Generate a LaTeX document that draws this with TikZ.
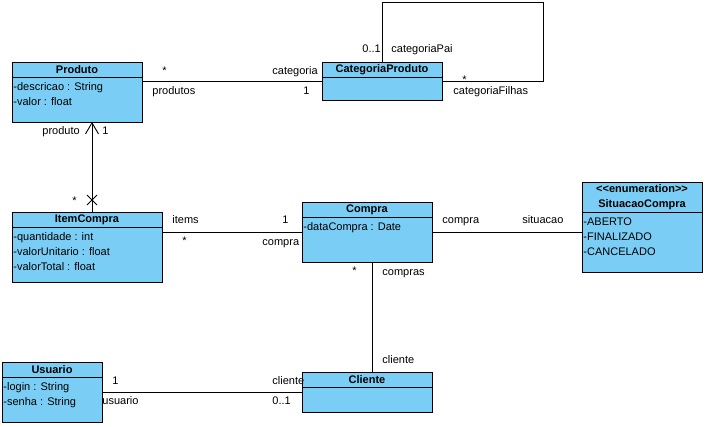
\documentclass[tikz,border=0pt]{standalone}
\usepackage{fontspec}
\setmainfont{Liberation Sans}
\usetikzlibrary{calc,shapes.misc,arrows.meta}

\definecolor{classblue}{RGB}{122,206,245}
\tikzset{every picture/.style={line width=0.9pt}}
\tikzset{
  classbox/.style={draw, fill=classblue, anchor=north west,
                inner sep=0pt, outer sep=0pt},
  classtitle/.style={font=\fontsize{11}{15}\selectfont\bfseries,
                inner sep=0pt, align=center},
  classattrs/.style={anchor=north west, align=left, inner sep=0pt,
                font=\fontsize{11}{15}\selectfont},
  role/.style={anchor=base west, inner sep=0pt,
                font=\fontsize{11}{15}\selectfont}, % association end labels
  navarrow/.style={-{Straight Barb[length=11pt,width=13pt]}},
}
% class box: name, x, y, width, height, title height, title, attributes
\newcommand{\umlclass}[8]{%
  \node[classbox, minimum width=#4pt, minimum height=#5pt] (#1) at (#2,#3) {};
  \node[classtitle] (#1-title) at ($(#1.north)+(0,#6/2)$) {#7};
  \draw ($(#1.north west)+(0,#6)$) -- ($(#1.north east)+(0,#6)$);
  \node[classattrs] (#1-attrs) at ($(#1.north west)+(1,#6+5)$) {#8};
}
\newcommand{\stereo}[1]{<\kern0pt<#1>\kern0pt>}

\begin{document}
\begin{tikzpicture}[x=1pt, y=-1pt]
  \useasboundingbox (0,0) rectangle (706,426);
  % classes
  \umlclass{produto}{12}{62}{130}{60}{15}{Produto}{-descricao : String\\-valor : float}
  \umlclass{categoria}{322}{62}{120}{38}{15}{CategoriaProduto}{}
  \umlclass{itemcompra}{12}{212}{150}{70}{15}{ItemCompra}{-quantidade : int\\-valorUnitario : float\\-valorTotal : float}
  \umlclass{compra}{302}{202}{130}{60}{15}{Compra}{-dataCompra : Date}
  \umlclass{situacao}{582}{182}{120}{90}{30}{\stereo{enumeration}\\SituacaoCompra}{-ABERTO\\-FINALIZADO\\-CANCELADO}
  \umlclass{cliente}{302}{372}{130}{40}{15}{Cliente}{}
  \umlclass{usuario}{2}{362}{100}{60}{15}{Usuario}{-login : String\\-senha : String}

  % associations
  \draw (categoria.west) -- (categoria.west -| produto.east);
  \coordinate (loop) at (543,2);
  \draw (categoria.north) |- (loop) |- (categoria.east);
  \node[cross out, draw, minimum size=9pt, inner sep=0pt] (itemend) at ($(itemcompra.north)+(5,-12)$) {};
  \draw[navarrow] ([xshift=5pt]itemcompra.north) -- ([xshift=5pt]itemcompra.north |- produto.south);
  \draw (compra.west) -- (compra.west -| itemcompra.east);
  \draw (compra.east) -- (compra.east -| situacao.west);
  \draw ([xshift=5pt]compra.south) -- ([xshift=5pt]cliente.north);
  \draw (cliente.west) -- (cliente.west -| usuario.east);

  % role names and multiplicities
  \node[role] (m-produtos) at (162,74) {*};
  \node[role] (r-produtos) at (152,94) {produtos};
  \node[role] (r-categoria) at (272,74) {categoria};
  \node[role] (m-categoria) at (303,94) {1};
  \node[role] (m-pai) at (362,52) {0..1};
  \node[role] (r-pai) at (391,52) {categoriaPai};
  \node[role] (m-filhas) at (462,83) {*};
  \node[role] (r-filhas) at (453,94) {categoriaFilhas};
  \node[role] (r-produto) at (42,134) {produto};
  \node[role] (m-produto) at (102,134) {1};
  \node[role] (m-item) at (72,204) {*};
  \node[role] (r-items) at (172,223) {items};
  \node[role] (m-compra1) at (282,223) {1};
  \node[role] (m-items) at (182,244) {*};
  \node[role] (r-compra1) at (262,245) {compra};
  \node[role] (r-compra2) at (442,223) {compra};
  \node[role] (r-situacao) at (522,223) {situacao};
  \node[role] (m-compras) at (352,274) {*};
  \node[role] (r-compras) at (382,275) {compras};
  \node[role] (r-cliente1) at (382,363) {cliente};
  \node[role] (m-usuario) at (112,384) {1};
  \node[role] (r-usuario) at (102,404) {usuario};
  \node[role] (r-cliente2) at (272,384) {cliente};
  \node[role] (m-cliente) at (272,404) {0..1};
\end{tikzpicture}
\end{document}
